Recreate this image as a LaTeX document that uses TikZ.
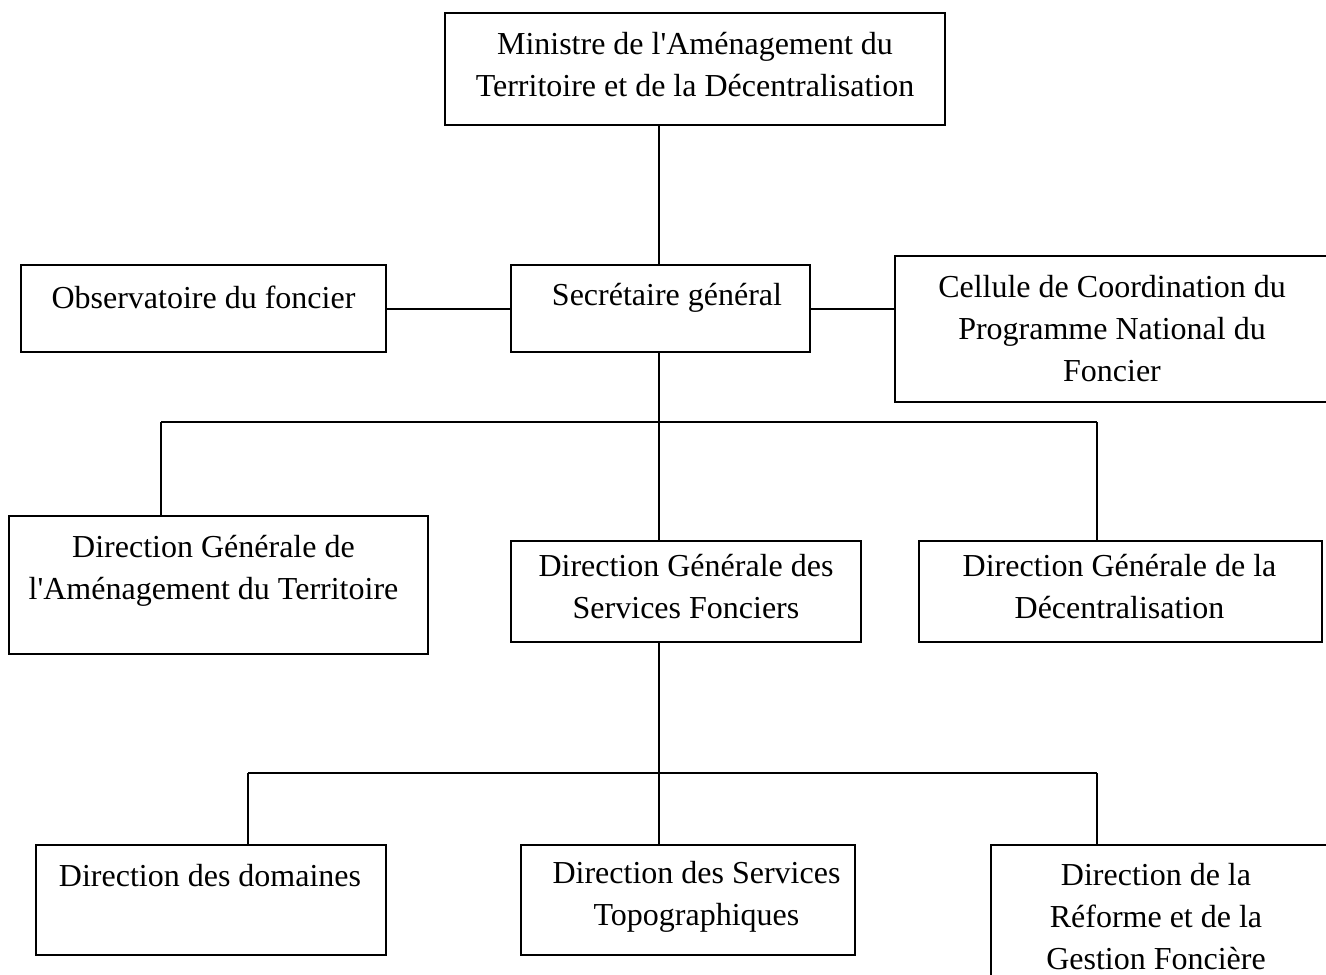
\documentclass[tikz,border=0pt]{standalone}
\usepackage{fontspec}
\setmainfont{Liberation Serif}[Ligatures=TeXOff]
\begin{document}
\begin{tikzpicture}[x=1pt,y=-1pt,
  box/.style={draw, line width=2pt, inner sep=0pt},
  txt/.style={inner sep=0pt, align=center, font=\fontsize{32}{42}\selectfont},
  conn/.style={line width=2pt}]
\useasboundingbox (0,0) rectangle (1326,975);
\clip (0,0) rectangle (1326,975);
% boxes
\node[box, minimum width=500pt, minimum height=112pt] (min) at (695,69) {};
\node[box, minimum width=365pt, minimum height=87pt] (obs) at (203.5,308.5) {};
\node[box, minimum width=299pt, minimum height=87pt] (sec) at (660.5,308.5) {};
\node[box, minimum width=470pt, minimum height=146pt] (cel) at (1130,329) {};
\node[box, minimum width=419pt, minimum height=138pt] (dgat) at (218.5,585) {};
\node[box, minimum width=350pt, minimum height=101pt] (dgsf) at (686,591.5) {};
\node[box, minimum width=403pt, minimum height=101pt] (dgd) at (1120.5,591.5) {};
\node[box, minimum width=350pt, minimum height=110pt] (dom) at (211,900) {};
\node[box, minimum width=334pt, minimum height=110pt] (dst) at (688,900) {};
\node[box, minimum width=400pt, minimum height=220pt] (drgf) at (1191,955) {};
% texts
\node[txt] (tmin) at (695,65) {Ministre de l'Aménagement du\\Territoire et de la Décentralisation};
\node[txt] (tobs) at (203.5,297) {Observatoire du foncier};
\node[txt] (tsec) at (667,298) {Secrétaire général};
\node[txt] (tcel) at (1112,329) {Cellule de Coordination du\\Programme National du\\Foncier};
\node[txt] (tdgat) at (213.5,571) {Direction Générale de\\l'Aménagement du Territoire};
\node[txt] (tdgsf) at (686,587) {Direction Générale des\\Services Fonciers};
\node[txt] (tdgd) at (1119.5,587) {Direction Générale de la\\Décentralisation};
\node[txt] (tdom) at (210,876) {Direction des domaines};
\node[txt] (tdst) at (696.5,897) {Direction des Services\\Topographiques};
\node[txt] (tdrgf) at (1156,917) {Direction de la\\Réforme et de la\\Gestion Foncière};
% connectors
\coordinate (t1) at (659,0);
\coordinate (b1l) at (161,422);
\coordinate (b1r) at (1097,422);
\coordinate (b2l) at (248,773);
\coordinate (b2r) at (1097,773);
\draw[conn] (min.south -| t1) -- (sec.north -| t1);
\draw[conn] (obs.east) -- (sec.west);
\draw[conn] (sec.east) -- (sec.east -| cel.west);
\draw[conn] (sec.south -| t1) -- (dgsf.north -| t1);
\draw[conn] (b1l) -- (b1r);
\draw[conn] (b1l) -- (b1l |- dgat.north);
\draw[conn] (b1r) -- (b1r |- dgd.north);
\draw[conn] (dgsf.south -| t1) -- (dst.north -| t1);
\draw[conn] (b2l) -- (b2r);
\draw[conn] (b2l) -- (b2l |- dom.north);
\draw[conn] (b2r) -- (b2r |- drgf.north);
\end{tikzpicture}
\end{document}
